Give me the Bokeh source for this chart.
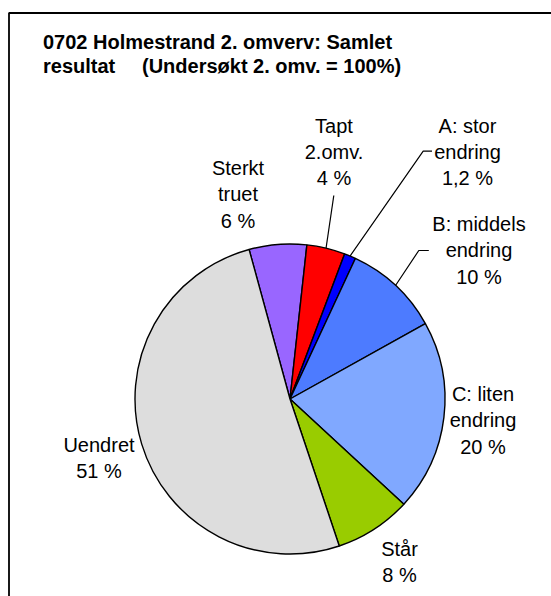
import numpy as np
from bokeh.plotting import figure
from bokeh.models import Range1d
from bokeh.core.properties import value
from bokeh.embed import file_html
from bokeh.resources import INLINE

# ---- data ----
categories = ["Sterkt truet", "Tapt 2.omv.", "A: stor endring", "B: middels endring",
              "C: liten endring", "Står", "Uendret"]
values = [6, 4, 1.2, 10, 20, 8, 51]
colors = ["#9966FF", "#FF0000", "#0000FF", "#4D7BFF", "#80A8FF", "#99CC00", "#DDDDDD"]
label_names = ["Sterkt\ntruet", "Tapt\n2.omv.", "A: stor\nendring", "B: middels\nendring",
               "C: liten\nendring", "Står", "Uendret"]
title_parts = ["0702 Holmestrand 2. omverv: Samlet", "resultat", "(Undersøkt 2. omv. = 100%)"]

# ---- layout (page pixel coordinates -> figure coordinates) ----
W, H = 551, 596
def fx(px): return px
def fy(py): return H - py

cx, cy, R = fx(289.5), fy(398.5), 155
start_deg = -15.3  # clockwise from 12 o'clock

vals = np.array(values, dtype=float)
frac = vals / vals.sum()
theta1 = start_deg + 360 * np.cumsum(frac)
theta0 = theta1 - 360 * frac
start_angle = np.radians(90 - theta0)
end_angle = np.radians(90 - theta1)
mid = (theta0 + theta1) / 2

p = figure(width=W, height=H, output_backend="svg", toolbar_location=None,
           x_range=Range1d(0, W), y_range=Range1d(0, H),
           x_axis_location=None, y_axis_location=None,
           min_border=0, min_border_left=0, min_border_right=0,
           min_border_top=0, min_border_bottom=0)
p.grid.visible = False
p.outline_line_color = None
p.outline_line_alpha = 0
p.background_fill_color = None
p.border_fill_color = None

# chart area border (extends beyond the window on right/bottom)
p.line([fx(8.5), fx(8.5), W + 20], [fy(H + 20), fy(12.5), fy(12.5)],
       line_color="black", line_width=1.8)

# pie
p.wedge(x=cx, y=cy, radius=R, radius_units="screen",
        start_angle=start_angle, end_angle=end_angle, direction="clock",
        fill_color=colors, line_color="black", line_width=1.4)

# leader lines (from slice mid-angle on edge to label)
leader_ends = {1: [(333.3, 195)], 2: [(422.7, 150.7), (431.5, 150.7)],
               3: [(418.3, 250), (428.3, 250)]}
for i, pts in leader_ends.items():
    a = np.radians(mid[i])
    xs = [cx + R * np.sin(a)] + [fx(q[0]) for q in pts]
    ys = [cy + R * np.cos(a)] + [fy(q[1]) for q in pts]
    p.line(xs, ys, line_color="black", line_width=1.2)

# labels
def fmt(v):
    s = ("%g" % v).replace(".", ",")
    return s + " %"
label_texts = [n + "\n" + fmt(v) for n, v in zip(label_names, values)]
label_pos = [(237.5, 194), (333.5, 151.5), (467, 151.5), (478.5, 249.7),
             (482.5, 419.7), (399, 561.3), (98.5, 457.5)]
p.text(x=[fx(q[0]) for q in label_pos], y=[fy(q[1]) for q in label_pos],
       text=label_texts, text_font=value("Liberation Sans"), text_font_size="20px",
       text_align="center", text_baseline="middle", text_line_height=1.2,
       text_color="black")

# title
p.text(x=[fx(42.5), fx(42.5), fx(141.5)], y=[fy(41.5), fy(65.5), fy(65.5)], text=title_parts,
       text_font=value("Liberation Sans"), text_font_size="20px",
       text_font_style="bold", text_align="left", text_baseline="alphabetic",
       text_color="black")

open("out.html", "w").write(file_html(p, INLINE))
